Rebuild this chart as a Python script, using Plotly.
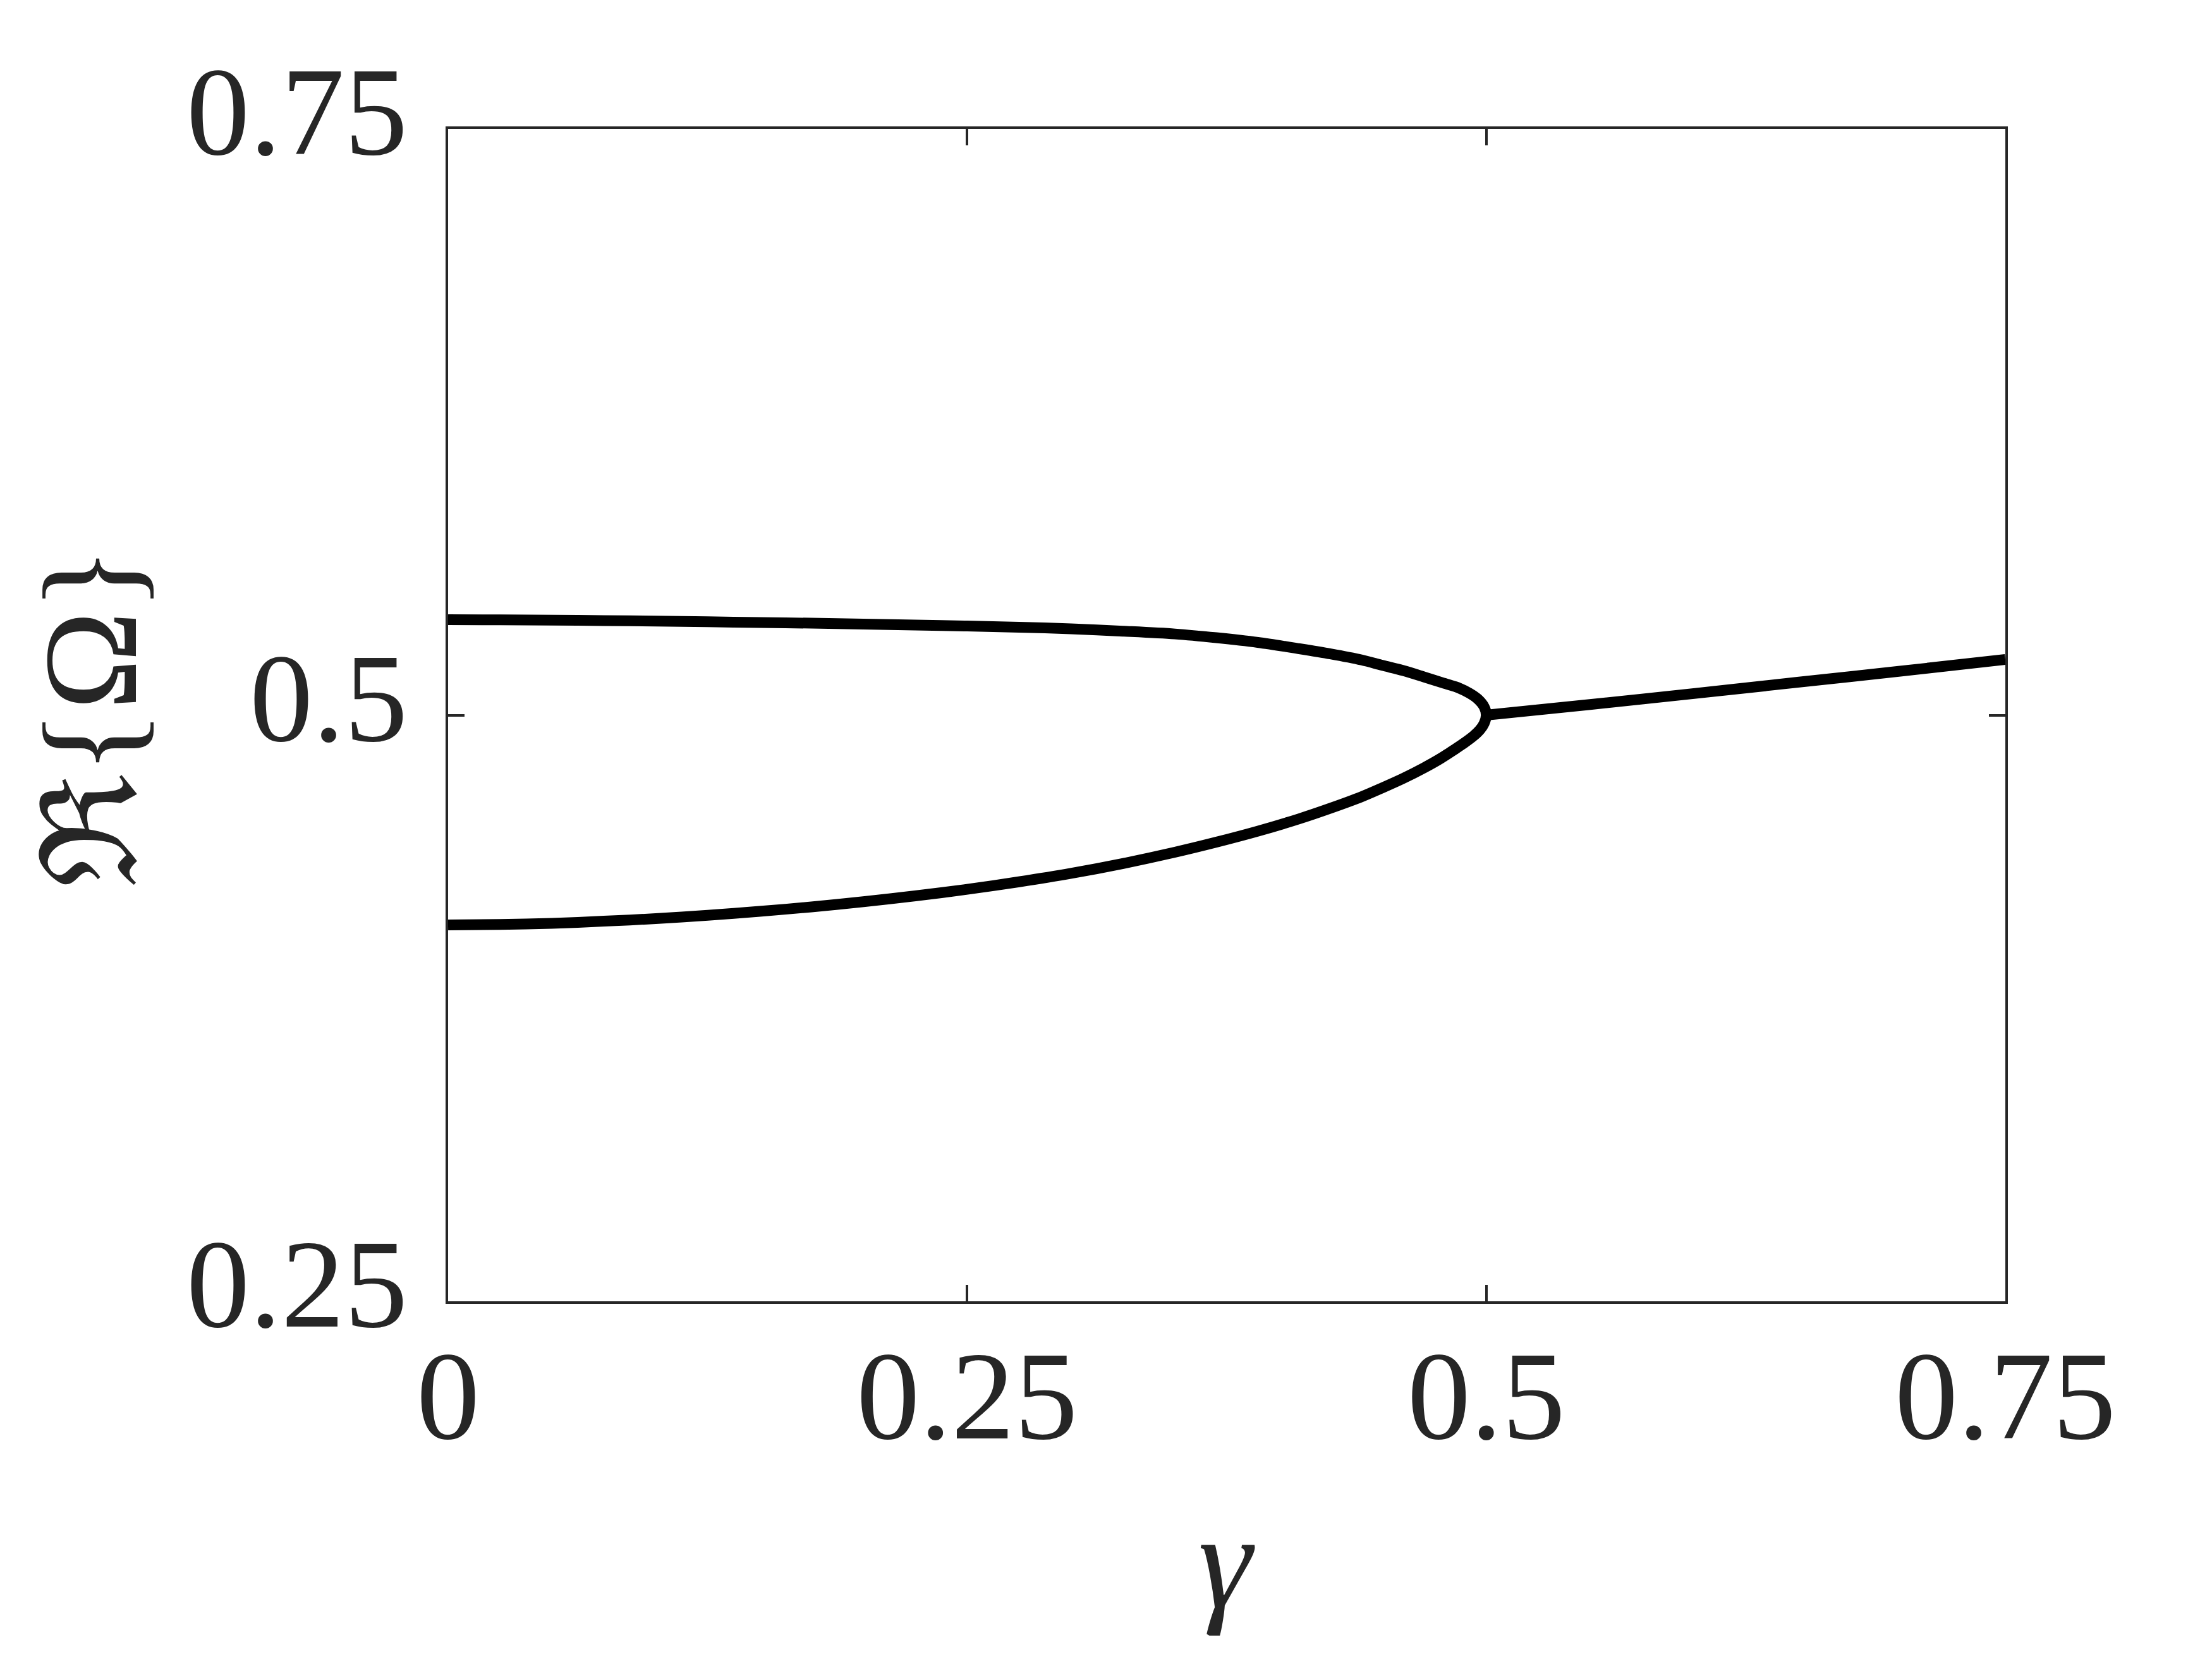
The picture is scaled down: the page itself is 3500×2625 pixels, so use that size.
"""
Bifurcation of Re{Omega} versus gamma: two branches merge at gamma = 0.5.
"""
import plotly.graph_objects as go

# upper branch
gamma_upper = [0.000, 0.025, 0.050, 0.075, 0.100, 0.125, 0.150, 0.175, 0.200, 0.225,
               0.250, 0.275, 0.300, 0.325, 0.350, 0.370, 0.390, 0.410, 0.425, 0.440,
               0.450, 0.460, 0.470, 0.480, 0.487, 0.492, 0.496, 0.499, 0.500]
omega_upper = [0.5407, 0.5406, 0.5405, 0.5403, 0.5401, 0.5398, 0.5395, 0.5392, 0.5388, 0.5384,
               0.5380, 0.5375, 0.5368, 0.5358, 0.5346, 0.5330, 0.5310, 0.5283, 0.5261, 0.5235,
               0.5212, 0.5190, 0.5163, 0.5135, 0.5115, 0.5093, 0.5068, 0.5035, 0.5000]

# lower branch
gamma_lower = [0.000, 0.025, 0.050, 0.075, 0.100, 0.125, 0.150, 0.175, 0.200, 0.225,
               0.250, 0.275, 0.300, 0.325, 0.350, 0.370, 0.390, 0.410, 0.425, 0.440,
               0.450, 0.460, 0.470, 0.478, 0.485, 0.490, 0.494, 0.497, 0.499, 0.500]
omega_lower = [0.4105, 0.4107, 0.4112, 0.4121, 0.4132, 0.4146, 0.4163, 0.4182, 0.4204, 0.4229,
               0.4257, 0.4289, 0.4325, 0.4367, 0.4415, 0.4458, 0.4505, 0.4558, 0.4603, 0.4652,
               0.4690, 0.4730, 0.4775, 0.4815, 0.4855, 0.4885, 0.4912, 0.4938, 0.4965, 0.5000]

# merged branch past the exceptional point
gamma_merged = [0.500, 0.550, 0.600, 0.650, 0.700, 0.750]
omega_merged = [0.5000, 0.5045, 0.5092, 0.5140, 0.5188, 0.5237]

x_ticks = [0, 0.25, 0.5, 0.75]
x_ticklabels = ["0", "0.25", "0.5", "0.75"]
y_ticks = [0.25, 0.5, 0.75]
y_ticklabels = ["0.25", "0.5", "0.75"]

FONT = "Liberation Serif"
AXIS_COLOR = "#262626"
LINE = dict(color="black", width=17, shape="spline", smoothing=0.9)

fig = go.Figure()
# lower branch out to the junction, then back along the upper branch
loop_x = gamma_lower + gamma_upper[::-1][1:]
loop_y = omega_lower + omega_upper[::-1][1:]
fig.add_trace(go.Scatter(x=loop_x, y=loop_y, mode="lines", line=LINE,
                         cliponaxis=False, showlegend=False))
fig.add_trace(go.Scatter(x=gamma_merged, y=omega_merged, mode="lines", line=LINE,
                         cliponaxis=False, showlegend=False))

axis_common = dict(
    showgrid=False, zeroline=False,
    showline=True, linecolor=AXIS_COLOR, linewidth=4, mirror="ticks",
    ticks="inside", ticklen=26, tickwidth=4, tickcolor=AXIS_COLOR,
    tickfont=dict(family=FONT, size=200, color=AXIS_COLOR),
)

fig.update_xaxes(range=[0, 0.75], tickvals=x_ticks, ticktext=x_ticklabels,
                 ticklabelstandoff=-27, **axis_common)
fig.update_yaxes(range=[0.25, 0.75], tickvals=y_ticks, ticktext=y_ticklabels,
                 ticklabelstandoff=20, ticklabelshift=-30, **axis_common)

fig.add_annotation(text="<i>γ</i>", xref="paper", yref="paper", x=0.500, y=-0.222,
                   xanchor="center", yanchor="middle", showarrow=False,
                   font=dict(family=FONT, size=215, color=AXIS_COLOR))
fig.add_annotation(text="ℜ{Ω}", xref="paper", yref="paper", x=-0.2296, y=0.498,
                   xanchor="center", yanchor="middle", showarrow=False,
                   font=dict(family=FONT, size=212, color=AXIS_COLOR),
                   textangle=-90)

fig.update_layout(
    width=3500, height=2625,
    margin=dict(l=701, r=335, t=196, b=574),
    paper_bgcolor="white", plot_bgcolor="white",
)

fig.write_html("out.html")
